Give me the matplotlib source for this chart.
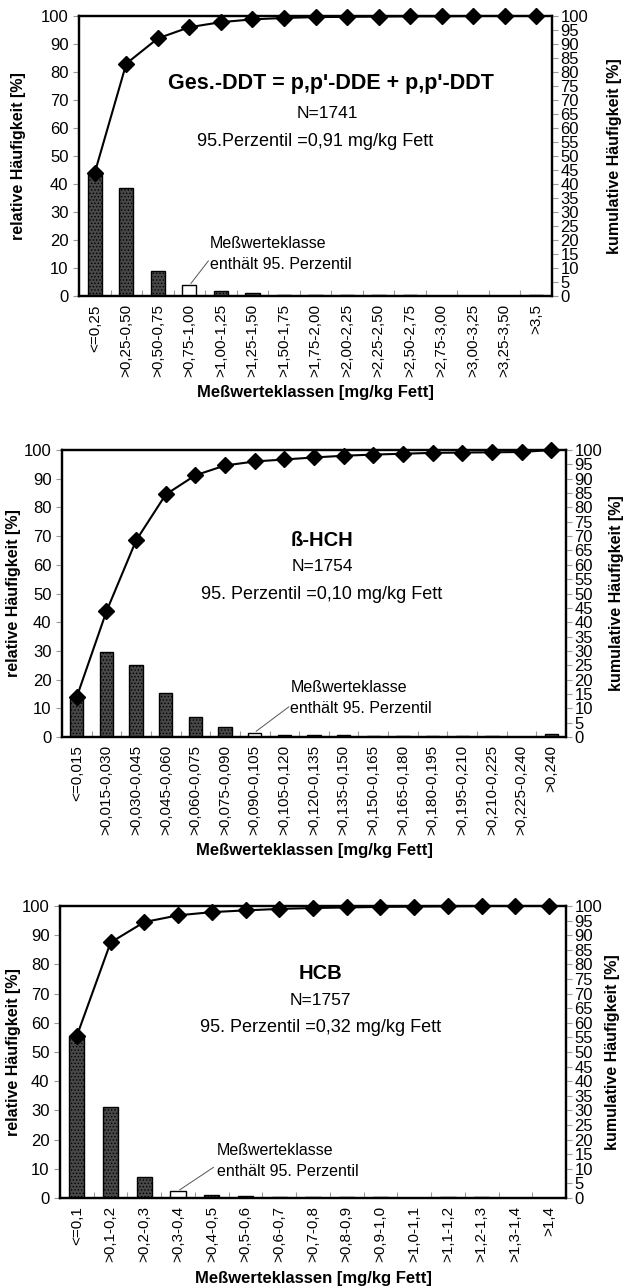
import matplotlib
matplotlib.use("Agg")
import matplotlib.pyplot as plt
import matplotlib.transforms as mtrans
import numpy as np

plt.rcParams['font.family'] = ['Liberation Sans', 'DejaVu Sans']
plt.rcParams['hatch.linewidth'] = 0.6

# ---------------- data ----------------
cats_ddt = ["<=0,25", ">0,25-0,50", ">0,50-0,75", ">0,75-1,00", ">1,00-1,25", ">1,25-1,50",
            ">1,50-1,75", ">1,75-2,00", ">2,00-2,25", ">2,25-2,50", ">2,50-2,75", ">2,75-3,00",
            ">3,00-3,25", ">3,25-3,50", ">3,5"]
rel_ddt = [44, 38.5, 9, 4, 1.8, 1.0, 0.5, 0.3, 0.3, 0.2, 0.2, 0.1, 0.1, 0.1, 0.3]
cum_ddt = [44, 83, 92, 96, 97.8, 98.8, 99.3, 99.6, 99.7, 99.8, 99.9, 99.9, 100, 100, 100]

cats_hch = ["<=0,015", ">0,015-0,030", ">0,030-0,045", ">0,045-0,060", ">0,060-0,075",
            ">0,075-0,090", ">0,090-0,105", ">0,105-0,120", ">0,120-0,135", ">0,135-0,150",
            ">0,150-0,165", ">0,165-0,180", ">0,180-0,195", ">0,195-0,210", ">0,210-0,225",
            ">0,225-0,240", ">0,240"]
rel_hch = [14, 29.5, 25, 15.5, 6.8, 3.5, 1.5, 0.7, 0.8, 0.6, 0.4, 0.3, 0.3, 0.2, 0.2, 0.1, 1.0]
cum_hch = [14, 43.8, 68.5, 84.5, 91.2, 94.6, 96.0, 96.7, 97.4, 98.0, 98.4, 98.7, 99.0, 99.1, 99.2, 99.3, 100]

cats_hcb = ["<=0,1", ">0,1-0,2", ">0,2-0,3", ">0,3-0,4", ">0,4-0,5", ">0,5-0,6", ">0,6-0,7",
            ">0,7-0,8", ">0,8-0,9", ">0,9-1,0", ">1,0-1,1", ">1,1-1,2", ">1,2-1,3", ">1,3-1,4", ">1,4"]
rel_hcb = [55.5, 31, 7.2, 2.3, 1.1, 0.6, 0.5, 0.3, 0.3, 0.2, 0.1, 0.2, 0.2, 0.1, 0.1]
cum_hcb = [55.5, 87.5, 94.5, 96.8, 97.9, 98.5, 99.0, 99.3, 99.5, 99.7, 99.8, 99.9, 100, 100, 100]

p95_idx = [3, 6, 3]
titles = ["Ges.-DDT = p,p'-DDE + p,p'-DDT", "ß-HCH", "HCB"]
ns = ["N=1741", "N=1754", "N=1757"]
percs = ["95.Perzentil =0,91 mg/kg Fett", "95. Perzentil =0,10 mg/kg Fett",
         "95. Perzentil =0,32 mg/kg Fett"]
annot = "Meßwerteklasse\nenthält 95. Perzentil"

W, H = 630, 1288
fig = plt.figure(figsize=(W / 100, H / 100), dpi=100)

# axes boxes in pixels (left, right, top, bottom)
boxes = [(79, 552, 16, 296), (62, 566, 450, 737), (60, 566, 906, 1198)]
ylab_left_px = [18, 14, 14]
ylab_right_px = [614, 617, 613]
xlab_y_px = [393, 850, 1279]
title_x = [(0.533, 0.525, 0.50), (0.516, 0.516, 0.516), (0.515, 0.515, 0.515)]
title_y = [(76, 65, 55), (68.5, 59.5, 49.5), (77, 67.5, 58.5)]
ann_text_xy = [(3.65, 21.5), (7.2, 20), (4.15, 19)]
ann_line_start = [(3.6, 12.5), (7.15, 10.5), (4.05, 10.5)]

datasets = [(cats_ddt, rel_ddt, cum_ddt), (cats_hch, rel_hch, cum_hch), (cats_hcb, rel_hcb, cum_hcb)]

for k, (cats, rel, cum) in enumerate(datasets):
    l, r, t, b = boxes[k]
    ax = fig.add_axes([l / W, 1 - b / H, (r - l) / W, (b - t) / H])
    n = len(cats)
    x = np.arange(n)
    colors = ['#484848'] * n
    colors[p95_idx[k]] = 'white'
    bars = ax.bar(x, rel, width=0.45, color=colors, edgecolor='black', linewidth=1.0, zorder=2)
    for i, bar in enumerate(bars):
        if i != p95_idx[k]:
            bar.set_hatch('.....')
    ax.set_xlim(-0.5, n - 0.5)
    ax.set_ylim(0, 100)
    ax.set_yticks(np.arange(0, 101, 10))
    ax.tick_params(axis='y', labelsize=12, direction='out', length=4, color='#999999', width=0.8)
    ax.set_xticks(x)
    ax.set_xticklabels(cats, rotation=90, fontsize=11)
    ax.tick_params(axis='x', length=0, pad=6)
    ax.set_xticks(np.arange(0.5, n - 0.5, 1), minor=True)
    ax.tick_params(axis='x', which='minor', direction='in', length=4, color='#999999', width=0.8)
    for s in ax.spines.values():
        s.set_linewidth(1.6)
    ax.set_ylabel("relative Häufigkeit [%]", fontsize=11.5, fontweight='bold')
    ax.yaxis.label.set_va('center')
    ax.yaxis.set_label_coords((ylab_left_px[k] - l) / (r - l), 0.5)
    ax.set_xlabel("Meßwerteklassen [mg/kg Fett]", fontsize=12, fontweight='bold')
    ax.xaxis.label.set_va('center')
    ax.xaxis.set_label_coords(0.5, (b - xlab_y_px[k]) / (b - t))

    ax2 = ax.twinx()
    ax2.set_ylim(0, 100)
    ax2.set_yticks(np.arange(0, 101, 5))
    ax2.tick_params(axis='y', labelsize=12, direction='out', length=4, color='#999999', width=0.8, pad=2)
    for s in ax2.spines.values():
        s.set_linewidth(1.6)
    ax2.plot(x, cum, color='black', lw=1.5, marker='D', markersize=8, clip_on=False, zorder=5)
    ax2.set_ylabel("kumulative Häufigkeit [%]", fontsize=11.5, fontweight='bold')
    ax2.yaxis.label.set_va('center')
    ax2.yaxis.set_label_coords((ylab_right_px[k] - l) / (r - l), 0.5)

    tr = mtrans.blended_transform_factory(ax.transAxes, ax.transData)
    tx = title_x[k]
    ty = title_y[k]
    ax.text(tx[0], ty[0], titles[k], transform=tr, ha='center', va='center',
            fontsize=15.5 if k == 0 else 14.5, fontweight='bold')
    ax.text(tx[1], ty[1], ns[k], transform=tr, ha='center', va='center', fontsize=12.5)
    ax.text(tx[2], ty[2], percs[k], transform=tr, ha='center', va='center', fontsize=13)

    ax.text(ann_text_xy[k][0], ann_text_xy[k][1], annot, ha='left', va='top', fontsize=11.5, linespacing=1.5)
    ax.plot([ann_line_start[k][0], p95_idx[k] + 0.05], [ann_line_start[k][1], rel[p95_idx[k]] + 0.5],
            color='#555555', lw=0.7, zorder=3)

fig.savefig("out.png", dpi=100)
